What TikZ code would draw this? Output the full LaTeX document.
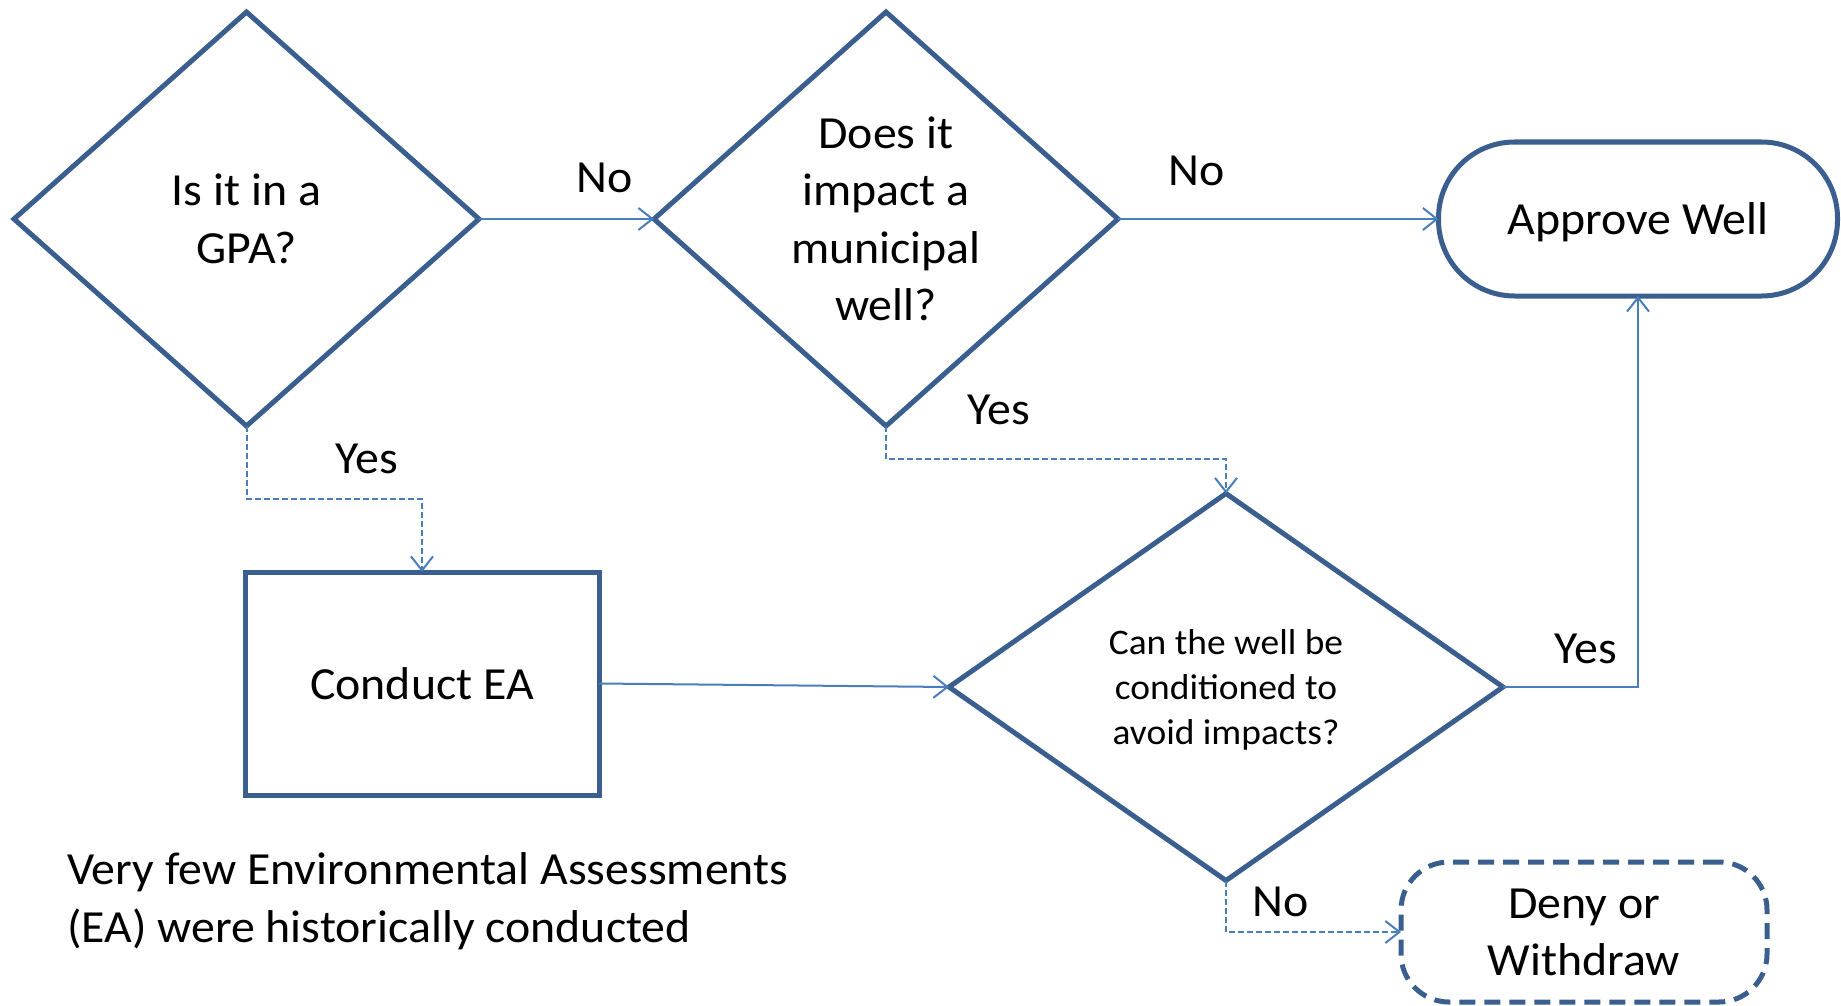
\documentclass[tikz,border=0pt]{standalone}
\usepackage{fontspec}
\setmainfont[FakeStretch=1.04]{Carlito}
\usetikzlibrary{shapes.geometric,arrows.meta}
\definecolor{shapeblue}{HTML}{3A5F8F}
\definecolor{linkblue}{HTML}{4A7EBB}
\newcommand\lowertext[1]{\raisebox{-3.5pt}[\height][\depth]{\begin{tabular}{@{}c@{}}#1\end{tabular}}}
\tikzset{
  big/.style={font=\fontsize{46}{57.5}\selectfont},
  small/.style={font=\fontsize{36}{44.6}\selectfont},
  decision/.style={diamond, draw=shapeblue, line width=5pt, inner sep=0pt, outer sep=0pt, align=center},
  process/.style={rectangle, draw=shapeblue, line width=5pt, inner sep=0pt, outer sep=0pt, align=center, big},
  term/.style={rectangle, draw=shapeblue, line width=5pt, inner sep=0pt, outer sep=0pt, align=center, big},
  link/.style={draw=linkblue, line width=2pt, -{Straight Barb[length=14pt,width=22pt,line width=2pt]}},
  dlink/.style={link, dash pattern=on 6pt off 3pt},
  lbl/.style={big, inner sep=0pt}
}
\begin{document}
\begin{tikzpicture}[x=1pt,y=-1pt]
\useasboundingbox (0,0) rectangle (1841,1006);
\node[decision, big, minimum width=465pt, minimum height=414pt, shape aspect=1.12] (gpa) at (246.5,219) {Is it in a\\GPA?};
\node[decision, big, minimum width=464pt, minimum height=414pt, shape aspect=1.12] (muni) at (886,219) {Does it\\impact a\\municipal\\well?};
\node[term, rounded corners=76pt, minimum width=399pt, minimum height=154pt] (approve) at (1638,219) {\lowertext{Approve Well}};
\node[process, minimum width=354pt, minimum height=223pt] (ea) at (422,683.5) {Conduct EA};
\node[decision, small, minimum width=554pt, minimum height=387pt, shape aspect=1.43] (cond) at (1226,687) {\lowertext{Can the well be\\conditioned to\\avoid impacts?}};
\node[term, dash pattern=on 16pt off 9pt, rounded corners=48pt, minimum width=366pt, minimum height=140pt] (deny) at (1584,932) {\lowertext{Deny or\\Withdraw}};
\node[big, align=left, anchor=west, inner sep=0pt] (note) at (67,901) {Very few Environmental Assessments\\(EA) were historically conducted};

\draw[link] (gpa.east) -- (muni.west);
\draw[link] (muni.east) -- (approve.west);
\draw[dlink] (gpa.south) -- ++(0,73) -| (ea.north);
\draw[dlink] (muni.south) -- ++(0,33) -| (cond.north);
\draw[link] (ea.east) -- (cond.west);
\draw[link] (cond.east) -| (approve.south);
\draw[dlink] (cond.south) |- (deny.west);

\node[lbl] (l1) at (605,178) {No};
\node[lbl] (l2) at (1197,171) {No};
\node[lbl] (l3) at (367,459) {Yes};
\node[lbl] (l4) at (999,410) {Yes};
\node[lbl] (l5) at (1586,649) {Yes};
\node[lbl] (l6) at (1281,902) {No};
\end{tikzpicture}
\end{document}
